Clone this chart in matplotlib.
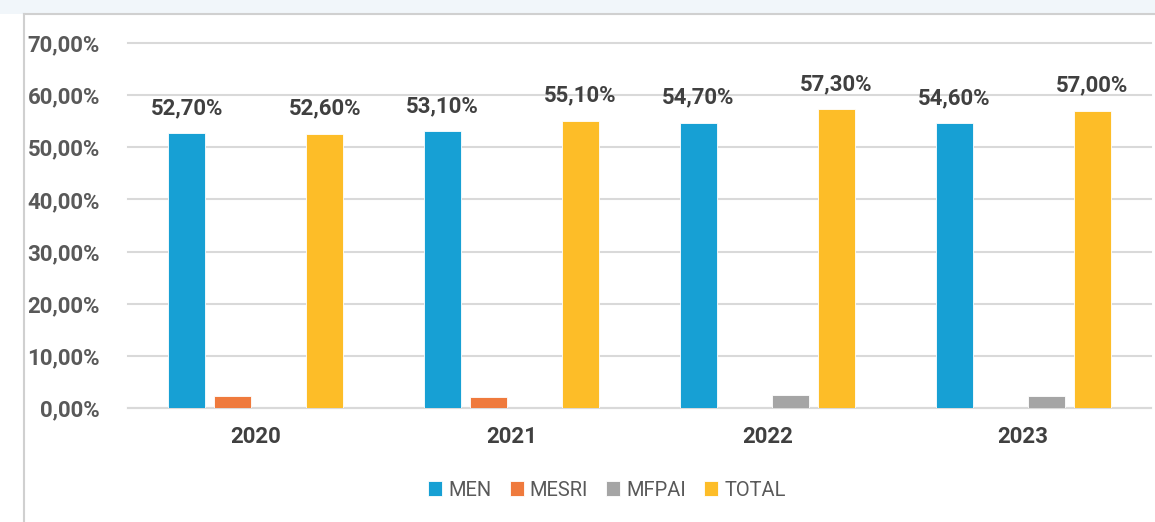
import numpy as np
import matplotlib.pyplot as plt
from matplotlib.patches import Rectangle
from matplotlib.lines import Line2D

years = ['2020', '2021', '2022', '2023']
series = ['MEN', 'MESRI', 'MFPAI', 'TOTAL']
men = [52.7, 53.1, 54.7, 54.6]
mesri = [2.3, 2.1, np.nan, np.nan]
mfpai = [np.nan, np.nan, 2.5, 2.3]
total = [52.6, 55.1, 57.3, 57.0]
colors = ['#17a0d4', '#ef7a3d', '#a5a5a5', '#fdbd28']

label_font = dict(family=['Roboto', 'DejaVu Sans'], weight='bold')

fig = plt.figure(figsize=(11.55, 5.22), dpi=100)

# light band on top + card border
fig.patches.append(Rectangle((0, 1 - 14 / 522), 1, 14 / 522, transform=fig.transFigure,
                             facecolor='#f1f6fa', edgecolor='none', zorder=0))
fig.lines.append(Line2D([24 / 1155, 24 / 1155], [0, 1 - 14 / 522], transform=fig.transFigure,
                        color='#d0d0d0', lw=1.5))
fig.lines.append(Line2D([24 / 1155, 1], [1 - 14 / 522, 1 - 14 / 522], transform=fig.transFigure,
                        color='#d0d0d0', lw=1.5))

ax = fig.add_axes([128 / 1155, 1 - 408 / 522, 1023 / 1155, 365 / 522])

x = np.arange(len(years))
offsets = [-0.27, -0.09, 0.09, 0.27]
width = 0.145
data = [men, mesri, mfpai, total]
bars = []
for vals, off, col, name in zip(data, offsets, colors, series):
    b = ax.bar(x + off, vals, width, color=col, label=name, zorder=3,
               edgecolor='white', linewidth=0.6)
    bars.append(b)

for idx in (0, 3):
    for rect, v in zip(bars[idx], data[idx]):
        ax.annotate(f'{v:.2f}%'.replace('.', ','),
                    (rect.get_x() + rect.get_width() / 2, rect.get_height()),
                    xytext=(0, 18), textcoords='offset points', ha='center', va='center',
                    color='#404040', fontsize=16, **label_font)

ax.set_ylim(0, 70)
ax.set_xlim(-0.5, 3.5)
ax.set_yticks(range(0, 71, 10))
ax.set_yticklabels([f'{t},00%' for t in range(0, 71, 10)], color='#595959',
                   fontsize=16, **label_font)
ax.set_xticks(x)
ax.set_xticklabels(years, color='#404040', fontsize=16, **label_font)
ax.tick_params(axis='both', length=0)
ax.tick_params(axis='x', pad=13)
ax.tick_params(axis='y', pad=20)
ax.grid(axis='y', color='#d9d9d9', lw=1.5, zorder=0)
for gl in ax.get_ygridlines():
    gl.set_clip_on(False)
for s in ['top', 'right', 'left']:
    ax.spines[s].set_visible(False)
ax.spines['bottom'].set_color('#d9d9d9')
ax.spines['bottom'].set_linewidth(1.5)

leg = fig.legend(loc='center', bbox_to_anchor=(607 / 1155, 1 - 490 / 522), ncol=4,
                 frameon=False, handlelength=0.7, handleheight=0.7,
                 handletextpad=0.3, columnspacing=0.9,
                 prop=dict(family=['Roboto', 'DejaVu Sans'], size=14.5))
for t in leg.get_texts():
    t.set_color('#595959')

fig.savefig('out.png', dpi=100)
